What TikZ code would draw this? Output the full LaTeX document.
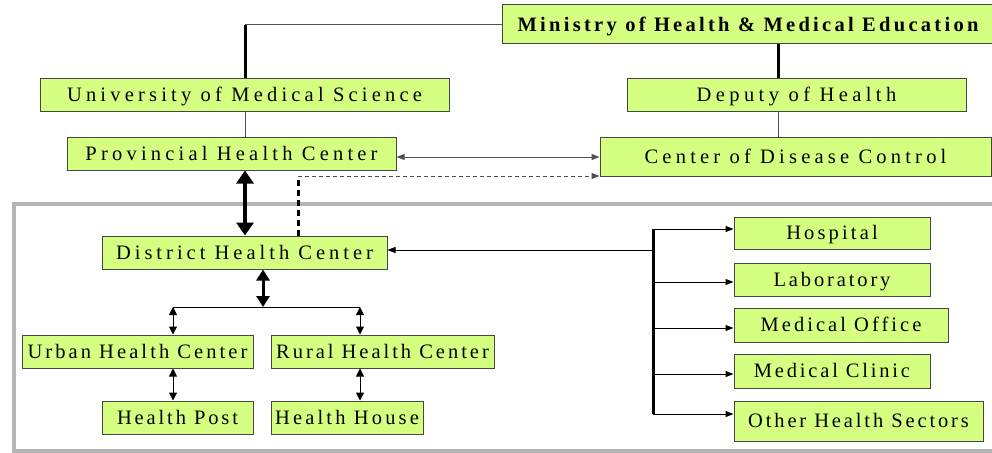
\documentclass[tikz,border=0pt]{standalone}
\usepackage{fontspec}
\setmainfont{Liberation Serif}
\usetikzlibrary{arrows.meta}
\definecolor{boxfill}{RGB}{212,255,128}
\definecolor{boxline}{RGB}{70,70,70}
\definecolor{frameg}{RGB}{180,180,180}
\definecolor{lineg}{RGB}{80,80,80}
\newcommand\lsp[2]{{\addfontfeature{LetterSpace=#1}#2}}
\begin{document}
\begin{tikzpicture}[x=1pt,y=-1pt,
  box/.style={draw=boxline, fill=boxfill, line width=1pt, inner sep=0pt,
    text height=13.5pt, text depth=0pt,
    font=\fontsize{20.5}{21}\selectfont},
  thinln/.style={line width=1pt, draw=lineg},
  thickln/.style={line width=3pt, draw=black},
  sarrow/.style={line width=1pt, draw=black, -{Triangle[length=8pt,width=6pt]}},
  sdbl/.style={line width=1pt, draw=black, {Triangle[length=8pt,width=8pt]}-{Triangle[length=8pt,width=8pt]}},
  bigdbl/.style={line width=3.5pt, draw=black, {Triangle[length=13pt,width=17pt]}-{Triangle[length=13pt,width=17pt]}},
  meddbl/.style={line width=3pt, draw=black, {Triangle[length=11pt,width=13pt]}-{Triangle[length=11pt,width=13pt]}}
]
\clip (0,0) rectangle (992,452);
\useasboundingbox (0,0) rectangle (992,452);
% frame
\draw[frameg, line width=4pt] (13.5,204) rectangle (1010,451);
% nodes
\node[box, minimum width=492pt, minimum height=39pt] (min) at (748,24.5)
  {\bfseries\lsp{16}{Ministry of Health \& Medical Education}};
\node[box, minimum width=409pt, minimum height=33pt] (univ) at (244.5,94.5)
  {\lsp{20.5}{University of Medical Science}};
\node[box, minimum width=339pt, minimum height=33pt] (dep) at (796.5,94.5)
  {\lsp{21.5}{Deputy of Health}};
\node[box, minimum width=329pt, minimum height=33pt] (prov) at (231.5,153.5)
  {\lsp{20.5}{Provincial Health Center}};
\node[box, minimum width=391pt, minimum height=39pt] (cdc) at (795.5,156.5)
  {\lsp{20.5}{Center of Disease Control}};
\node[box, minimum width=285pt, minimum height=33pt] (dist) at (244.5,252.5)
  {\lsp{19.5}{District Health Center}};
\node[box, minimum width=231pt, minimum height=33pt] (urban) at (137.5,351.5)
  {\lsp{15}{Urban Health Center}};
\node[box, minimum width=223pt, minimum height=33pt] (rural) at (382.5,351.5)
  {\lsp{14.5}{Rural Health Center}};
\node[box, minimum width=151pt, minimum height=33pt] (post) at (177.5,417.5)
  {\lsp{14}{Health Post}};
\node[box, minimum width=152pt, minimum height=33pt] (house) at (347,417.5)
  {\lsp{15.5}{Health House}};
\node[box, minimum width=196pt, minimum height=32pt] (hosp) at (832,233)
  {\lsp{15.3}{Hospital}};
\node[box, minimum width=196pt, minimum height=33pt] (lab) at (832,279.5)
  {\lsp{14}{Laboratory}};
\node[box, minimum width=214pt, minimum height=34pt] (office) at (841,325)
  {\lsp{14.8}{Medical Office}};
\node[box, minimum width=196pt, minimum height=34pt] (clinic) at (832,371)
  {\lsp{13.7}{Medical Clinic}};
\node[box, minimum width=249pt, minimum height=40pt] (other) at (858.5,421)
  {\lsp{14}{Other Health Sectors}};
% helper coordinates
\coordinate (xmd) at (778,0);
\coordinate (xud) at (245,0);
\coordinate (xdash) at (298,0);
\coordinate (xdd) at (263,0);
\coordinate (xl) at (173,0);
\coordinate (xr) at (360,0);
\coordinate (xbus) at (653,0);
\coordinate (ypc) at (0,157);
\coordinate (ydash) at (0,176);
\coordinate (ybranch) at (0,307);
\coordinate (ydist) at (0,250);
\coordinate (bustop) at (653,229);
\coordinate (busbot) at (653,414);
% upper connectors
\draw[thinln] (min.west |- 0,25) -- (xud |- 0,25);
\draw[thickln] (xud |- 0,25) -- (xud |- univ.north);
\draw[thickln] (xmd |- min.south) -- (xmd |- dep.north);
\draw[thinln] (xmd |- dep.south) -- (xmd |- cdc.north);
\draw[thinln] (xud |- univ.south) -- (xud |- prov.north);
\draw[line width=1pt, draw=lineg, {Triangle[length=8pt,width=6pt]}-{Triangle[length=8pt,width=6pt]}]
  (prov.east |- ypc) -- (cdc.west |- ypc);
% dashed link
\draw[line width=3pt, dash pattern=on 6pt off 4pt] (xdash |- dist.north) -- (xdash |- ydash);
\draw[line width=1pt, draw=lineg, dash pattern=on 4pt off 3pt, -{Triangle[length=8pt,width=6pt]}]
  (xdash |- ydash) -- (cdc.west |- ydash);
% province-district
\draw[bigdbl] (xud |- prov.south) -- (xud |- dist.north);
% district to urban/rural
\draw[meddbl] (xdd |- dist.south) -- (xdd |- ybranch);
\draw[line width=1pt] (xl |- ybranch) -- (xr |- ybranch);
\draw[sdbl] (xl |- ybranch) -- (xl |- urban.north);
\draw[sdbl] (xr |- ybranch) -- (xr |- rural.north);
\draw[sdbl] (xl |- urban.south) -- (xl |- post.north);
\draw[sdbl] (xr |- rural.south) -- (xr |- house.north);
% bus
\draw[line width=1pt, -{Triangle[length=8pt,width=6pt]}] (xbus |- ydist) -- (dist.east |- ydist);
\draw[line width=3pt] (bustop) -- (busbot);
\draw[sarrow] (bustop) -- (hosp.west |- bustop);
\draw[sarrow] (xbus |- 0,282) -- (lab.west |- 0,282);
\draw[sarrow] (xbus |- 0,328) -- (office.west |- 0,328);
\draw[sarrow] (xbus |- 0,374) -- (clinic.west |- 0,374);
\draw[sarrow] (busbot) -- (other.west |- busbot);
\end{tikzpicture}
\end{document}
